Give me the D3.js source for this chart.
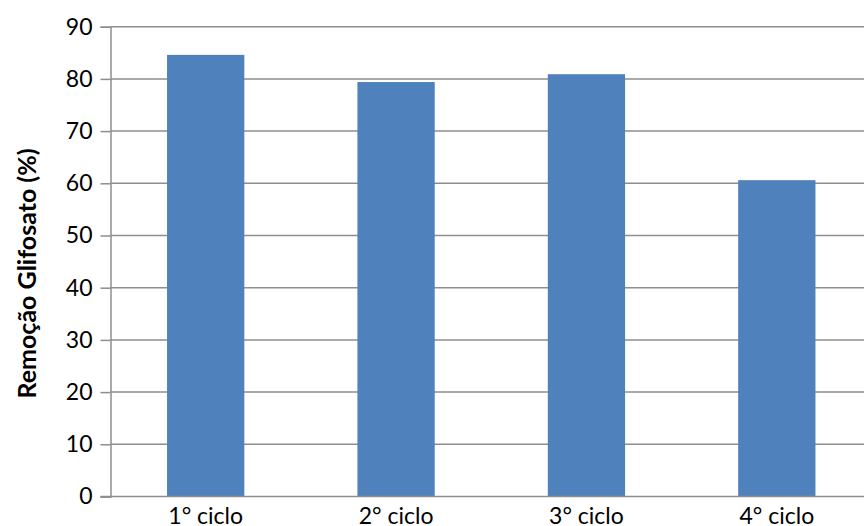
<!DOCTYPE html>
<html>
<head>
<meta charset="utf-8">
<script src="https://cdn.jsdelivr.net/npm/d3@7"></script>
<style>
  html, body { margin: 0; padding: 0; background: #fff; }
  svg { display: block; font-family: Lato, "Open Sans", sans-serif; }
</style>
</head>
<body>
<svg id="chart" width="864" height="526"></svg>
<script>
// Glyphosate removal over successive reuse cycles
const categories = ["1° ciclo", "2° ciclo", "3° ciclo", "4° ciclo"];
const removal = [84.6, 79.4, 80.9, 60.6];
const yTicks = [0, 10, 20, 30, 40, 50, 60, 70, 80, 90];
const yTitle = "Remoção Glifosato (%)";

const svg = d3.select("#chart");
const plotLeft = 110.5, plotRight = 872, plotTop = 26.7, plotBottom = 496.5;

const x = d3.scaleBand().domain(categories).range([plotLeft, plotRight])
  .paddingInner(0.594).paddingOuter(0.297);
const y = d3.scaleLinear().domain([0, 90]).range([plotBottom, plotTop]);

// horizontal gridlines
svg.append("g").selectAll("line").data(yTicks.filter(d => d > 0)).join("line")
  .attr("x1", plotLeft).attr("x2", 864)
  .attr("y1", d => y(d)).attr("y2", d => y(d))
  .attr("stroke", "#8e8e8e").attr("stroke-width", 1.5);

// bars
svg.append("g").selectAll("rect").data(categories).join("rect")
  .attr("x", d => x(d))
  .attr("width", x.bandwidth())
  .attr("y", (d, i) => y(removal[i]))
  .attr("height", (d, i) => y(0) - y(removal[i]))
  .attr("fill", "#4f81bd");

// y axis
const yAxis = svg.append("g").attr("transform", `translate(${plotLeft},0)`)
  .call(d3.axisLeft(y).tickValues(yTicks).tickSize(10).tickPadding(8));
yAxis.select(".domain").attr("stroke", "#8e8e8e").attr("stroke-width", 1.5);
yAxis.selectAll(".tick line").attr("stroke", "#8e8e8e").attr("stroke-width", 1.5);
yAxis.selectAll(".tick text").attr("font-size", 23).attr("fill", "#000")
  .attr("font-family", "Lato, sans-serif");

// x axis
const xAxis = svg.append("g").attr("transform", `translate(0,${plotBottom})`)
  .call(d3.axisBottom(x).tickSize(0).tickPadding(0));
xAxis.select(".domain").attr("d", `M${plotLeft - 10},0H864`)
  .attr("stroke", "#8e8e8e").attr("stroke-width", 1.5);
xAxis.selectAll(".tick text").attr("font-size", 23).attr("fill", "#000")
  .attr("font-family", "Lato, sans-serif")
  .attr("dy", null).attr("y", 27.5);

// y axis title
svg.append("text")
  .attr("transform", `translate(36,273.5) rotate(-90)`)
  .attr("text-anchor", "middle")
  .attr("font-size", 25).attr("font-weight", "bold")
  .attr("font-family", "Lato, sans-serif")
  .text(yTitle);
</script>
</body>
</html>
